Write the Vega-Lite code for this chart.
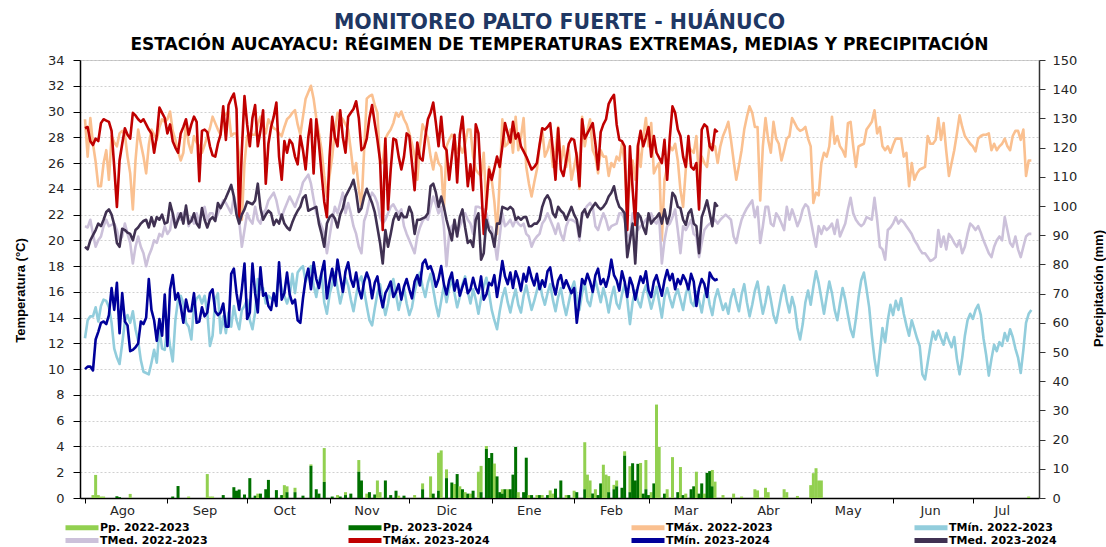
{
"$schema":"https://vega.github.io/schema/vega-lite/v6.json",
"width":959,"height":438,
"autosize":"none",
"padding":{"left":80,"top":60,"right":67,"bottom":49},
"background":"white",
"config":{"font":"DejaVu Sans","view":{"stroke":"#BFBFBF","strokeWidth":1}},
"title":{"text":"MONITOREO PALTO FUERTE - HUÁNUCO","subtitle":"ESTACIÓN AUCAYACU: RÉGIMEN DE TEMPERATURAS EXTREMAS, MEDIAS Y PRECIPITACIÓN","color":"#1F3864","font":"DejaVu Sans","fontSize":20.5,"fontWeight":"bold","subtitleColor":"#000000","subtitleFont":"DejaVu Sans","subtitleFontSize":17,"subtitleFontWeight":"bold","anchor":"middle","offset":1,"subtitlePadding":4},
"data":{"values":[
{"d":0,"a":29.4,"b":12.4,"c":21.1,"e":28.7,"f":10,"g":19.5},
{"d":1,"a":26.5,"b":13.8,"c":21,"e":28.8,"f":10.2,"g":19.3},
{"d":2,"a":29.5,"b":14.1,"c":21.6,"e":27.7,"f":10.2,"g":20},
{"d":3,"a":27.5,"b":14.1,"c":20.5,"e":27.4,"f":9.9,"g":20.4,"p":1},
{"d":4,"a":26.1,"b":14.8,"c":19.5,"e":27.9,"f":12.3,"g":20.8,"p":7.9},
{"d":5,"a":24.2,"b":13.7,"c":20,"e":27.7,"f":12.9,"g":21.3,"p":1},
{"d":6,"a":24.2,"b":14.9,"c":20.3,"e":29.1,"f":13.6,"g":21.1,"p":0.5},
{"d":7,"a":26,"b":15.4,"c":21.1,"e":29.4,"f":13.7,"g":21.6,"p":0.5},
{"d":8,"a":27,"b":15.3,"c":21.6,"e":29.3,"f":13.5,"g":22.2},
{"d":9,"a":24.7,"b":14.8,"c":21.1,"e":29.2,"f":14.2,"g":22.4},
{"d":10,"a":28.1,"b":13.6,"c":21.2,"e":28.5,"f":16.3,"g":22},
{"d":11,"a":27.6,"b":11.6,"c":21.3,"e":25.7,"f":14.6,"g":21.2},
{"d":12,"a":27.3,"b":10.9,"c":20.8,"e":22.6,"f":16.7,"g":19.8,"q":0.6},
{"d":13,"a":28.3,"b":10.4,"c":20,"e":26.2,"f":12.8,"g":19.5,"q":0.3},
{"d":14,"a":28.5,"b":12,"c":20.3,"e":27.5,"f":15.9,"g":20.9},
{"d":15,"a":28.2,"b":13.7,"c":21.3,"e":28.7,"f":13.7,"g":20.8},
{"d":16,"a":26.5,"b":14.2,"c":20.5,"e":28.2,"f":13.4,"g":20.6},
{"d":17,"a":25.2,"b":13.6,"c":19.8,"e":27.9,"f":11.4,"g":20.5,"p":1.4},
{"d":18,"a":22.4,"b":14.5,"c":18.2,"e":29.9,"f":11.5,"g":20},
{"d":19,"a":26.2,"b":13.1,"c":19.5,"e":29.7,"f":11.7,"g":20.8},
{"d":20,"a":28.6,"b":12.2,"c":20.3,"e":29.4,"f":12,"g":21},
{"d":21,"a":27.5,"b":10.7,"c":19.5,"e":29.2,"f":13.7,"g":21.3},
{"d":22,"a":26.5,"b":9.8,"c":19,"e":29.4,"f":13.5,"g":21.5},
{"d":23,"a":25.2,"b":9.7,"c":18,"e":29,"f":14,"g":21.6},
{"d":24,"a":27.4,"b":9.6,"c":18.8,"e":28.6,"f":17,"g":21},
{"d":25,"a":28.6,"b":10.5,"c":19.3,"e":28.3,"f":14.6,"g":21.8},
{"d":26,"a":28.2,"b":11.5,"c":20,"e":26.8,"f":13.8,"g":21.1},
{"d":27,"a":27.8,"b":10.5,"c":19.8,"e":28.1,"f":12.2,"g":21.8},
{"d":28,"a":28.8,"b":13.1,"c":20.5,"e":30.3,"f":13.9,"g":21.6},
{"d":29,"a":29.4,"b":11.6,"c":20.3,"e":29.9,"f":12.6,"g":22},
{"d":30,"a":29.2,"b":11.5,"c":21.1,"e":29.5,"f":15.8,"g":21.3},
{"d":31,"a":29.4,"b":13.3,"c":20.5,"e":28.3,"f":11.8,"g":21.4},
{"d":32,"a":30,"b":11.8,"c":20.8,"e":29,"f":16.2,"g":22.9},
{"d":33,"a":28.5,"b":10.6,"c":22.1,"e":27.7,"f":17.3,"g":22.1,"q":0.5},
{"d":34,"a":27.8,"b":13.8,"c":21.1,"e":27.2,"f":15.4,"g":21},
{"d":35,"a":26.9,"b":15.4,"c":22.1,"e":26.8,"f":15.9,"g":21.6,"q":4.1},
{"d":36,"a":26.2,"b":15.7,"c":21.6,"e":28.3,"f":14.9,"g":22.1},
{"d":37,"a":26.8,"b":15.1,"c":22.1,"e":28.8,"f":13.6,"g":21.3},
{"d":38,"a":29.1,"b":13.6,"c":22.4,"e":29.4,"f":15.4,"g":22.7},
{"d":39,"a":27.5,"b":13.3,"c":21.1,"e":28.2,"f":14.5,"g":21.3,"p":0.5},
{"d":40,"a":26.8,"b":12.3,"c":21.8,"e":29,"f":14.5,"g":21.5},
{"d":41,"a":28.1,"b":14.9,"c":21.3,"e":29.6,"f":15.9,"g":22.1},
{"d":42,"a":27.6,"b":15.5,"c":22.1,"e":29.2,"f":13.6,"g":21.3},
{"d":43,"a":27.3,"b":15.7,"c":21.3,"e":24.6,"f":13.7,"g":21},
{"d":44,"a":26.8,"b":15.1,"c":22.4,"e":28.5,"f":14.8,"g":22.5},
{"d":45,"a":27.4,"b":15.7,"c":22.6,"e":28.6,"f":14.1,"g":21.6},
{"d":46,"a":28.1,"b":14.4,"c":21.6,"e":28.4,"f":14.4,"g":21,"p":8.2},
{"d":47,"a":28.7,"b":11.8,"c":22.1,"e":27.3,"f":15.9,"g":21.6,"p":0.5},
{"d":48,"a":29.6,"b":12.6,"c":22.1,"e":26.6,"f":16.2,"g":21.8,"p":0.5},
{"d":49,"a":29.1,"b":15.4,"c":21.6,"e":26.5,"f":14.5,"g":21.5},
{"d":50,"a":28.6,"b":15.9,"c":22.1,"e":27.5,"f":14.2,"g":22.9},
{"d":51,"a":28.2,"b":12.8,"c":22.6,"e":28.2,"f":14.4,"g":22.5},
{"d":52,"a":29.6,"b":14.1,"c":23.1,"e":30.4,"f":15.1,"g":22.9,"q":1},
{"d":53,"a":29.8,"b":12.8,"c":22.9,"e":27.8,"f":13.3,"g":23.3},
{"d":54,"a":30,"b":14.4,"c":22.5,"e":30.5,"f":13.3,"g":23.8},
{"d":55,"a":28.1,"b":13.3,"c":22.1,"e":31,"f":17.4,"g":24.3},
{"d":56,"a":28.3,"b":14.9,"c":23.4,"e":31.4,"f":17.8,"g":23.4,"q":3.7},
{"d":57,"a":28.3,"b":13.8,"c":22.4,"e":30.2,"f":15.9,"g":22,"q":2.5},
{"d":58,"a":26.5,"b":13.1,"c":21.5,"e":21.6,"f":14.6,"g":21.3,"q":2.9},
{"d":59,"a":21.6,"b":14.6,"c":19.5,"e":27,"f":16.2,"g":22},
{"d":60,"a":26,"b":14.9,"c":20.8,"e":31.2,"f":18.2,"g":22.4,"q":1.2},
{"d":61,"a":28.1,"b":15.4,"c":22.1,"e":29,"f":13.9,"g":23},
{"d":62,"a":28.3,"b":13.8,"c":21.6,"e":27.3,"f":14.4,"g":22.9,"q":6.8},
{"d":63,"a":28.2,"b":13.1,"c":21.3,"e":29.5,"f":18.2,"g":22.8},
{"d":64,"a":28.2,"b":14.4,"c":22.6,"e":30.5,"f":15.9,"g":23.1,"q":0.8},
{"d":65,"a":29,"b":17,"c":21.6,"e":27.3,"f":14.4,"g":24.4,"p":1.5},
{"d":66,"a":29.6,"b":16.2,"c":21.3,"e":28.5,"f":17.9,"g":22.5,"q":1.5},
{"d":67,"a":28.9,"b":16.3,"c":22.1,"e":30.1,"f":15.7,"g":21.6},
{"d":68,"a":28.3,"b":15.1,"c":22.4,"e":24.4,"f":15.9,"g":22,"q":3},
{"d":69,"a":29.4,"b":15.7,"c":23.1,"e":27.5,"f":14.9,"g":22.3,"q":6.2},
{"d":70,"a":29,"b":15.5,"c":23.4,"e":28.8,"f":14.6,"g":22.1},
{"d":71,"a":28.7,"b":15.4,"c":23.7,"e":29.6,"f":15.9,"g":21.2},
{"d":72,"a":28.6,"b":15.7,"c":23.1,"e":30.7,"f":14.9,"g":21.6,"q":2.7},
{"d":73,"a":28.3,"b":17.5,"c":22.1,"e":26.5,"f":18.3,"g":21.3},
{"d":74,"a":28.1,"b":16.2,"c":21.8,"e":24.7,"f":15.4,"g":22,"q":1},
{"d":75,"a":28.8,"b":15.7,"c":22.4,"e":27.7,"f":15.9,"g":21.3,"p":4.4},
{"d":76,"a":29.4,"b":15.1,"c":22.9,"e":26.8,"f":17.5,"g":21,"p":2,"q":2},
{"d":77,"a":29.6,"b":15.7,"c":23.4,"e":27.8,"f":15.8,"g":20.8},
{"d":78,"a":29.9,"b":17.4,"c":23,"e":27.5,"f":15.1,"g":21.4},
{"d":79,"a":30.1,"b":15.9,"c":22.6,"e":26.5,"f":15.4,"g":21.9,"p":1.5,"q":2},
{"d":80,"a":29,"b":17.5,"c":23.2,"e":25.9,"f":13.8,"g":22.3},
{"d":81,"a":28.2,"b":17.8,"c":23.7,"e":28.1,"f":13.6,"g":22.6},
{"d":82,"a":29.6,"b":18,"c":24.5,"e":27,"f":15.5,"g":23.3,"q":0.8},
{"d":83,"a":31,"b":16.8,"c":24.8,"e":25.5,"f":17,"g":23.5},
{"d":84,"a":31.5,"b":17.3,"c":25.1,"e":28,"f":17.8,"g":22.3},
{"d":85,"a":32,"b":18,"c":24.4,"e":29.4,"f":16.2,"g":22.4,"p":0.5,"q":11},
{"d":86,"a":31,"b":16.5,"c":23.2,"e":25.2,"f":18.3,"g":22.5},
{"d":87,"a":29.5,"b":15.6,"c":22.1,"e":29.4,"f":17,"g":22.6,"q":3},
{"d":88,"a":28.3,"b":16.9,"c":21.6,"e":27.5,"f":16.3,"g":21.3,"q":1.5},
{"d":89,"a":27,"b":17.4,"c":21.1,"e":25.2,"f":17.5,"g":20.5},
{"d":90,"a":25,"b":15.2,"c":20.5,"e":23,"f":18.4,"g":19.5,"p":11.6,"q":5.5},
{"d":91,"a":23.4,"b":14.3,"c":19,"e":21.8,"f":15.5,"g":21.3},
{"d":92,"a":25,"b":15.8,"c":20.3,"e":26.5,"f":16.8,"g":21.8},
{"d":93,"a":26.5,"b":16.6,"c":21.6,"e":29.6,"f":17.8,"g":22,"q":0.5},
{"d":94,"a":28.5,"b":17.5,"c":22.6,"e":28,"f":16.5,"g":21.7},
{"d":95,"a":29.9,"b":16.3,"c":22.1,"e":27.3,"f":18.5,"g":21,"p":1},
{"d":96,"a":29.6,"b":15.1,"c":22.9,"e":30.1,"f":17.2,"g":22,"q":0.5},
{"d":97,"a":29.4,"b":16,"c":23.7,"e":28,"f":16,"g":22.5},
{"d":98,"a":29,"b":17.1,"c":22.1,"e":26.8,"f":17.6,"g":23.4,"p":1,"q":1},
{"d":99,"a":28.6,"b":16.5,"c":22.9,"e":29.6,"f":18.3,"g":23.8},
{"d":100,"a":27,"b":15.4,"c":22.1,"e":29.9,"f":17,"g":24.2,"q":1.5},
{"d":101,"a":25.2,"b":14.5,"c":21.1,"e":30.2,"f":16.4,"g":24.7},
{"d":102,"a":26,"b":15.7,"c":20.5,"e":30.8,"f":17.5,"g":23.7},
{"d":103,"a":24,"b":16.8,"c":19.5,"e":29.5,"f":16.2,"g":22.2,"p":4,"q":9},
{"d":104,"a":22.6,"b":17.2,"c":19,"e":27,"f":15.5,"g":22.5,"q":6},
{"d":105,"a":27,"b":16.1,"c":21.5,"e":27.2,"f":16.8,"g":23.4},
{"d":106,"a":31,"b":14.9,"c":22.1,"e":27.9,"f":17.5,"g":24,"p":1.5},
{"d":107,"a":31.2,"b":13.8,"c":23.1,"e":29.5,"f":16.9,"g":23.4,"q":2},
{"d":108,"a":31.3,"b":13.4,"c":23.7,"e":30.5,"f":15.5,"g":22.9},
{"d":109,"a":30.5,"b":14.7,"c":23.4,"e":29.1,"f":16.7,"g":22.2,"q":1.2},
{"d":110,"a":29.9,"b":15.9,"c":22.9,"e":27.8,"f":17.2,"g":21,"p":6},
{"d":111,"a":26,"b":16.6,"c":21.8,"e":26.2,"f":15.8,"g":19.8,"p":2},
{"d":112,"a":26,"b":15.3,"c":21.3,"e":20.8,"f":14.8,"g":18.2},
{"d":113,"a":27.9,"b":14.2,"c":21.6,"e":27.9,"f":15.9,"g":20.8,"q":6},
{"d":114,"a":28.3,"b":15.1,"c":22.1,"e":22.4,"f":16.3,"g":19.5},
{"d":115,"a":28.6,"b":16.4,"c":22.6,"e":25.5,"f":16.8,"g":20.5,"q":1},
{"d":116,"a":29.1,"b":17,"c":22.8,"e":27.9,"f":15.6,"g":21.6},
{"d":117,"a":29.9,"b":15.8,"c":22.4,"e":27.8,"f":16,"g":22.1,"q":2.5},
{"d":118,"a":29.6,"b":14.6,"c":22.1,"e":26.5,"f":16.6,"g":21.6,"p":0.8},
{"d":119,"a":30,"b":15.5,"c":22.4,"e":25.5,"f":15.4,"g":22.1},
{"d":120,"a":29.4,"b":16.3,"c":21.1,"e":26.5,"f":16.4,"g":21.8,"q":0.8},
{"d":121,"a":29,"b":15.1,"c":20.5,"e":28.3,"f":17,"g":21.8},
{"d":122,"a":28.3,"b":14.2,"c":20,"e":28.1,"f":16.2,"g":22.6},
{"d":123,"a":27.5,"b":14.8,"c":19.5,"e":26,"f":15.5,"g":22.1},
{"d":124,"a":26.6,"b":16,"c":19,"e":23.9,"f":16.8,"g":20.5,"p":1},
{"d":125,"a":24.7,"b":16.9,"c":20.3,"e":27.6,"f":17.3,"g":21.6},
{"d":126,"a":27.3,"b":17.5,"c":21,"e":26.4,"f":16.5,"g":21.6},
{"d":127,"a":29,"b":16.4,"c":21.5,"e":26.2,"f":18.2,"g":21.7,"p":2,"q":3},
{"d":128,"a":28.5,"b":15.6,"c":21.8,"e":28,"f":18.5,"g":21.8},
{"d":129,"a":27.9,"b":16.7,"c":21.6,"e":29.4,"f":17.8,"g":22.1},
{"d":130,"a":26.5,"b":17.4,"c":22.6,"e":29.9,"f":18,"g":24.2,"p":7.4},
{"d":131,"a":25.5,"b":16.2,"c":23.4,"e":30.7,"f":17.4,"g":24.4,"q":1.5},
{"d":132,"a":26.8,"b":15,"c":22.8,"e":29.1,"f":16.4,"g":23.7},
{"d":133,"a":26,"b":14.1,"c":22.1,"e":27.3,"f":17,"g":22.6,"p":13,"q":2.5},
{"d":134,"a":25.7,"b":15.3,"c":22.6,"e":29.6,"f":18,"g":23.4,"p":16.3},
{"d":135,"a":22.4,"b":16.5,"c":21.1,"e":27.3,"f":16.6,"g":22.6},
{"d":136,"a":27.3,"b":15.2,"c":18,"e":27,"f":15.8,"g":21.6,"p":3,"q":6.8},
{"d":137,"a":27.8,"b":16.3,"c":20.5,"e":24.7,"f":16.9,"g":20.8},
{"d":138,"a":28.2,"b":17,"c":21.1,"e":26.5,"f":17.5,"g":20,"q":5.3},
{"d":139,"a":27.9,"b":15.9,"c":21.3,"e":28.2,"f":16.1,"g":21.6,"p":4.8},
{"d":140,"a":26.8,"b":14.8,"c":20.5,"e":24.5,"f":16.9,"g":20.3,"q":8.2},
{"d":141,"a":27.3,"b":15.6,"c":21.1,"e":28.2,"f":15.7,"g":21.8,"p":4},
{"d":142,"a":26.8,"b":16.6,"c":21.6,"e":29.6,"f":16.4,"g":22.4,"q":3},
{"d":143,"a":27.5,"b":17.2,"c":22.1,"e":27,"f":17,"g":21,"p":2},
{"d":144,"a":28.6,"b":16,"c":21.6,"e":24.2,"f":15.9,"g":19.8,"q":1.5},
{"d":145,"a":28.6,"b":15.1,"c":21.3,"e":25.9,"f":16.2,"g":20,"p":1.5},
{"d":146,"a":26.5,"b":16.2,"c":20.5,"e":23.9,"f":17.1,"g":19.5,"q":2.5},
{"d":147,"a":25.5,"b":15.4,"c":22.6,"e":29,"f":16.3,"g":21.6},
{"d":148,"a":25.2,"b":14.3,"c":22.6,"e":28.3,"f":15.9,"g":22.1,"p":9},
{"d":149,"a":25,"b":15.5,"c":22.5,"e":24.5,"f":17.2,"g":18.5,"p":9,"q":2},
{"d":150,"a":26.8,"b":16.4,"c":22.4,"e":20.5,"f":15.4,"g":19},
{"d":151,"a":22.4,"b":17.1,"c":22.1,"e":22.9,"f":15.8,"g":21.6,"p":1,"q":16.8},
{"d":152,"a":25.7,"b":15.9,"c":21.1,"e":25.5,"f":16.7,"g":20.8,"q":13.7},
{"d":153,"a":24.7,"b":14.6,"c":21,"e":24.7,"f":16.5,"g":20.5,"q":15.4},
{"d":154,"a":23,"b":13.8,"c":20,"e":25.6,"f":17.3,"g":19.5,"p":11.8},
{"d":155,"a":20.5,"b":13.1,"c":18.5,"e":26.5,"f":15.6,"g":21.3,"q":7.4},
{"d":156,"a":24.7,"b":14.5,"c":20.3,"e":25.7,"f":16.9,"g":21.3,"q":2},
{"d":157,"a":29.4,"b":15.6,"c":22.1,"e":27.3,"f":18.4,"g":22.6,"p":1.5,"q":1.5},
{"d":158,"a":27.3,"b":16.3,"c":21.1,"e":29.1,"f":17.2,"g":22.5,"q":3},
{"d":159,"a":27.5,"b":15.2,"c":21.3,"e":28.3,"f":16.6,"g":22.4,"p":3},
{"d":160,"a":28.6,"b":14.4,"c":21.6,"e":27.6,"f":17.5,"g":22.6,"q":3},
{"d":161,"a":26.8,"b":15.4,"c":21.1,"e":29.2,"f":16.3,"g":22.4,"q":8},
{"d":162,"a":29.6,"b":16.2,"c":21.6,"e":27.9,"f":17.6,"g":21.6,"q":17.5},
{"d":163,"a":27,"b":15,"c":21.3,"e":28.3,"f":17,"g":21.8,"p":2},
{"d":164,"a":28,"b":14.4,"c":21.1,"e":27.3,"f":16.1,"g":21.6},
{"d":165,"a":29.5,"b":15.7,"c":21.3,"e":26.9,"f":17.4,"g":21.8,"q":2},
{"d":166,"a":25.7,"b":16.5,"c":20.5,"e":26.5,"f":16.8,"g":21.8,"q":13.8},
{"d":167,"a":24.4,"b":15.5,"c":20.3,"e":26,"f":17.9,"g":21.1,"p":1},
{"d":168,"a":23.4,"b":14.6,"c":19.5,"e":25.5,"f":17.1,"g":21.1,"q":1},
{"d":169,"a":24.5,"b":15.3,"c":20,"e":25.7,"f":16.5,"g":21.3},
{"d":170,"a":25.5,"b":16.1,"c":20.3,"e":26,"f":17.4,"g":21.3,"p":1},
{"d":171,"a":27.3,"b":16.8,"c":20.5,"e":27.4,"f":16.2,"g":21.6,"q":1},
{"d":172,"a":28.6,"b":15.7,"c":21.3,"e":28.7,"f":16.9,"g":22.6,"p":1},
{"d":173,"a":26.5,"b":15,"c":21.6,"e":28.6,"f":16.4,"g":23.2},
{"d":174,"a":27,"b":15.9,"c":22.1,"e":28.8,"f":17.6,"g":23.5,"q":1},
{"d":175,"a":27.8,"b":16.6,"c":21.6,"e":29.1,"f":17.9,"g":23.1,"p":2.6},
{"d":176,"a":25.7,"b":15.4,"c":21.1,"e":27,"f":16.6,"g":22.1,"p":1.5},
{"d":177,"a":27,"b":14.5,"c":20.5,"e":24.7,"f":15.8,"g":21.8,"q":3.2},
{"d":178,"a":28.8,"b":15.6,"c":21.3,"e":28.7,"f":16.9,"g":22.6},
{"d":179,"a":26,"b":16.3,"c":20.5,"e":25.5,"f":17.3,"g":22.3,"q":6},
{"d":180,"a":27.3,"b":15.1,"c":20,"e":25,"f":16.3,"g":22.1},
{"d":181,"a":25.7,"b":14.2,"c":21.1,"e":26.2,"f":16.9,"g":21.6,"p":1},
{"d":182,"a":27,"b":15.2,"c":21.6,"e":27.5,"f":16.4,"g":22.1,"q":1},
{"d":183,"a":24.7,"b":16.2,"c":21.6,"e":27.9,"f":15.9,"g":22.6},
{"d":184,"a":25.7,"b":16.8,"c":21.5,"e":27.8,"f":16.3,"g":22,"p":2.5},
{"d":185,"a":26.8,"b":15.6,"c":21.3,"e":26.5,"f":13.6,"g":21.6,"q":2},
{"d":186,"a":24,"b":14.6,"c":20,"e":24.2,"f":15.3,"g":20.3},
{"d":187,"a":29.6,"b":15.9,"c":21.8,"e":29.4,"f":17,"g":22.1},
{"d":188,"a":27.3,"b":16.7,"c":22.4,"e":27.9,"f":16.6,"g":22.4,"p":16.1,"q":3},
{"d":189,"a":28.5,"b":15.3,"c":22.7,"e":28.3,"f":17.4,"g":21.8,"p":8},
{"d":190,"a":29.4,"b":14.9,"c":22.9,"e":28.7,"f":16.8,"g":22.3,"p":6},
{"d":191,"a":27,"b":16,"c":22.6,"e":29.1,"f":16,"g":22.6,"q":1.5},
{"d":192,"a":26.5,"b":16.9,"c":21.1,"e":27.5,"f":17.3,"g":22.9,"p":3},
{"d":193,"a":25.2,"b":16.1,"c":20.8,"e":25.5,"f":17.8,"g":22.6,"q":1},
{"d":194,"a":27,"b":15.2,"c":21.5,"e":28.4,"f":16.6,"g":22.4,"q":5},
{"d":195,"a":26.5,"b":16.3,"c":22.1,"e":29,"f":17,"g":22.6,"p":11.4},
{"d":196,"a":26.5,"b":15.5,"c":21.6,"e":29.4,"f":16.4,"g":22.9,"p":8},
{"d":197,"a":25,"b":14.4,"c":20.8,"e":30.6,"f":17.2,"g":23.4,"p":5.5,"q":2},
{"d":198,"a":26,"b":15.6,"c":21.1,"e":31,"f":18.5,"g":23.7},
{"d":199,"a":25.7,"b":16.4,"c":21.2,"e":31.3,"f":17.3,"g":24.2,"p":1.5,"q":3},
{"d":200,"a":26.5,"b":15.1,"c":21.3,"e":29,"f":16.9,"g":23.2,"p":2,"q":4},
{"d":201,"a":26.2,"b":14.7,"c":22.1,"e":27.8,"f":16.1,"g":22.6},
{"d":202,"a":27.5,"b":15.8,"c":22.1,"e":27.7,"f":17.6,"g":22.4,"q":3.5},
{"d":203,"a":26,"b":16.6,"c":21.6,"e":27.3,"f":16.8,"g":22.1,"p":1.5,"q":14.5},
{"d":204,"a":22.6,"b":15.4,"c":20.5,"e":20.8,"f":15.6,"g":18.7},
{"d":205,"a":24.5,"b":13.5,"c":20,"e":27.3,"f":17.1,"g":20,"p":8.9,"q":2},
{"d":206,"a":26.2,"b":15.2,"c":22.1,"e":24,"f":16.5,"g":21.3,"q":11.9},
{"d":207,"a":24.7,"b":16.1,"c":21.6,"e":21.2,"f":15.4,"g":18.2,"q":6},
{"d":208,"a":27.5,"b":15.3,"c":20.8,"e":27.3,"f":16.4,"g":22.1,"q":11.7},
{"d":209,"a":25.7,"b":14.8,"c":21.1,"e":28.5,"f":17.2,"g":21.8,"p":12},
{"d":210,"a":28,"b":15.9,"c":21.3,"e":27.3,"f":16.7,"g":21,"q":1.5},
{"d":211,"a":29.5,"b":16.5,"c":21.6,"e":28,"f":17.6,"g":20.5,"p":10,"q":3},
{"d":212,"a":27.3,"b":15.6,"c":21.8,"e":28.8,"f":16.1,"g":22.1,"q":1},
{"d":213,"a":29.1,"b":14.7,"c":22.1,"e":26.5,"f":15.6,"g":21.3,"p":2},
{"d":214,"a":25.2,"b":15.5,"c":21.5,"e":28.1,"f":16.8,"g":21.6,"q":5},
{"d":215,"a":25.7,"b":16.4,"c":21.3,"e":26.8,"f":17.3,"g":21.8,"p":32},
{"d":216,"a":26,"b":15.2,"c":21.8,"e":26.4,"f":16.5,"g":22.1,"p":17.5},
{"d":217,"a":20,"b":14,"c":18.2,"e":26,"f":15.7,"g":21.3},
{"d":218,"a":24.7,"b":15.6,"c":20,"e":27.8,"f":16.9,"g":22.4,"q":1.5},
{"d":219,"a":25.7,"b":16.3,"c":21.1,"e":24.7,"f":17.7,"g":21.3,"p":3},
{"d":220,"a":27.3,"b":15.5,"c":21.3,"e":28,"f":16.9,"g":22},
{"d":221,"a":27,"b":14.8,"c":21.8,"e":30.4,"f":17.4,"g":23.7,"p":14},
{"d":222,"a":27.5,"b":15.7,"c":22.4,"e":29.9,"f":16.2,"g":23.4},
{"d":223,"a":26.2,"b":16.2,"c":20.8,"e":28.6,"f":17,"g":22.6,"q":2},
{"d":224,"a":23.9,"b":15.4,"c":19,"e":28.1,"f":16.6,"g":22.5,"p":10.6},
{"d":225,"a":22.6,"b":14.6,"c":21.1,"e":26.5,"f":17.3,"g":21.6,"q":1},
{"d":226,"a":25.5,"b":15.8,"c":20.8,"e":25.7,"f":16.9,"g":21.2,"p":1.5},
{"d":227,"a":27.3,"b":16.5,"c":21.2,"e":28.1,"f":16.2,"g":22.1},
{"d":228,"a":27,"b":15.2,"c":21.6,"e":25.7,"f":17.4,"g":22.4,"q":3},
{"d":229,"a":26.8,"b":14.9,"c":20.5,"e":25.5,"f":16.8,"g":21.3,"q":4},
{"d":230,"a":28.1,"b":16,"c":20.3,"e":26,"f":14.9,"g":21.1,"p":9},
{"d":231,"a":24.7,"b":15.3,"c":18.7,"e":22.4,"f":16.3,"g":19,"q":1.5},
{"d":232,"a":26.5,"b":14.4,"c":19.8,"e":28.6,"f":17,"g":21.8,"q":5},
{"d":233,"a":26,"b":15.7,"c":20.8,"e":29,"f":16.6,"g":22.4,"p":1.5},
{"d":234,"a":25.7,"b":16.3,"c":21.1,"e":28.8,"f":15.6,"g":23.1,"q":8.6},
{"d":235,"a":27.5,"b":15,"c":21.3,"e":27.3,"f":17.5,"g":22.1,"q":9.2},
{"d":236,"a":27.4,"b":14.2,"c":21.4,"e":27,"f":17.1,"g":21.1,"p":5.6,"q":4},
{"d":237,"a":27.3,"b":15.5,"c":21.6,"e":28.6,"f":16.9,"g":22.9,"p":5.6},
{"d":238,"a":26,"b":16.2,"c":21.3,"e":28.4,"f":17,"g":22.6},
{"d":239,"a":27.3,"b":15.4,"c":21.6},
{"d":240,"a":28.1,"b":14.6,"c":21.8,"p":1},
{"d":241,"a":28.6,"b":15.1,"c":22},
{"d":242,"a":29.2,"b":14.3,"c":21.8},
{"d":243,"a":27.8,"b":15.5,"c":21.6},
{"d":244,"a":26.2,"b":16.2,"c":20.3,"p":1.5},
{"d":245,"a":24.7,"b":15.3,"c":19.8},
{"d":246,"a":25.8,"b":14.5,"c":20.8},
{"d":247,"a":27,"b":15.8,"c":21.6,"p":0.5},
{"d":248,"a":28.6,"b":16.6,"c":22.1},
{"d":249,"a":29.6,"b":15.2,"c":22.5},
{"d":250,"a":30.4,"b":14.1,"c":22.8},
{"d":251,"a":29.9,"b":15,"c":23.1},
{"d":252,"a":28.8,"b":16.1,"c":21.8,"p":3},
{"d":253,"a":28.8,"b":16.8,"c":22.6,"p":2.6},
{"d":254,"a":23.1,"b":15.5,"c":19.8},
{"d":255,"a":27.3,"b":14.3,"c":21.1},
{"d":256,"a":29.5,"b":15.2,"c":22.6,"p":3.5},
{"d":257,"a":27.8,"b":16.4,"c":22.6,"p":2},
{"d":258,"a":26.8,"b":15.4,"c":21.3},
{"d":259,"a":29.2,"b":14.2,"c":21.1},
{"d":260,"a":27.9,"b":13.6,"c":22.1},
{"d":261,"a":27.5,"b":14.7,"c":21.8},
{"d":262,"a":26.2,"b":15.8,"c":21.3},
{"d":263,"a":27,"b":16.5,"c":20.8,"p":3},
{"d":264,"a":27.9,"b":15.3,"c":22.6,"p":2},
{"d":265,"a":28.1,"b":14.4,"c":21.6},
{"d":266,"a":29.5,"b":15.6,"c":22.4},
{"d":267,"a":29.1,"b":14.8,"c":21.8},
{"d":268,"a":28.7,"b":13.2,"c":21.1,"p":0.7},
{"d":269,"a":28.5,"b":12.3,"c":21.6},
{"d":270,"a":28.6,"b":13.5,"c":22.4},
{"d":271,"a":28.8,"b":15.2,"c":22.8},
{"d":272,"a":27.9,"b":16.1,"c":22.6},
{"d":273,"a":27.3,"b":15,"c":21.6,"p":4.4},
{"d":274,"a":22.9,"b":16.4,"c":20.5,"p":8.5},
{"d":275,"a":23.7,"b":17.6,"c":19.5,"p":10.2},
{"d":276,"a":23.5,"b":16.7,"c":21.1,"p":6},
{"d":277,"a":26,"b":15.5,"c":20.5,"p":6},
{"d":278,"a":26.8,"b":14.3,"c":21.1},
{"d":279,"a":26.5,"b":15.6,"c":20.8},
{"d":280,"a":27.3,"b":16.8,"c":21},
{"d":281,"a":29.6,"b":15.9,"c":21.3},
{"d":282,"a":27.5,"b":14.6,"c":20.5},
{"d":283,"a":28.1,"b":13.8,"c":21.6},
{"d":284,"a":27.3,"b":15.1,"c":20.3},
{"d":285,"a":27,"b":16.3,"c":20.8},
{"d":286,"a":26.5,"b":15.4,"c":21.3},
{"d":287,"a":29.1,"b":14.2,"c":22.4},
{"d":288,"a":29.2,"b":13.1,"c":23.3},
{"d":289,"a":27.3,"b":12.5,"c":22.1},
{"d":290,"a":25.7,"b":13.9,"c":21.6},
{"d":291,"a":27.3,"b":15.6,"c":21.3},
{"d":292,"a":27.4,"b":16.9,"c":21.1},
{"d":293,"a":27.5,"b":17.5,"c":21.3},
{"d":294,"a":28.6,"b":16.2,"c":21.8},
{"d":295,"a":28.9,"b":14.8,"c":21.7},
{"d":296,"a":29.2,"b":12.6,"c":21.6},
{"d":297,"a":30.1,"b":10.8,"c":23.3},
{"d":298,"a":28.3,"b":9.5,"c":21.6},
{"d":299,"a":28.8,"b":11.3,"c":19.5},
{"d":300,"a":27.3,"b":13.2,"c":19.3},
{"d":301,"a":27,"b":12.1,"c":18.5},
{"d":302,"a":27.3,"b":13.8,"c":20.8},
{"d":303,"a":26.8,"b":15,"c":21},
{"d":304,"a":27.4,"b":14.2,"c":21.3},
{"d":305,"a":27.9,"b":15.3,"c":21.8},
{"d":306,"a":27.9,"b":14.6,"c":21.3},
{"d":307,"a":27.9,"b":15.5,"c":21.6},
{"d":308,"a":26.5,"b":14.3,"c":21.4},
{"d":309,"a":26.8,"b":13.4,"c":21.1},
{"d":310,"a":24.2,"b":12.6,"c":20.8},
{"d":311,"a":26,"b":13.8,"c":20.5},
{"d":312,"a":24.7,"b":13.1,"c":20},
{"d":313,"a":25.2,"b":12.4,"c":19.7},
{"d":314,"a":25.5,"b":11.8,"c":19.3},
{"d":315,"a":25.6,"b":9.6,"c":19},
{"d":316,"a":25.7,"b":9.2,"c":19},
{"d":317,"a":28.1,"b":10.5,"c":18.7},
{"d":318,"a":27.5,"b":11.8,"c":18.4},
{"d":319,"a":27.5,"b":12.9,"c":18.5},
{"d":320,"a":27.8,"b":12.3,"c":18.7},
{"d":321,"a":29.5,"b":13,"c":20.8},
{"d":322,"a":27.8,"b":12.4,"c":19.5},
{"d":323,"a":29.1,"b":11.9,"c":20.3},
{"d":324,"a":26.9,"b":12.8,"c":19.3},
{"d":325,"a":25,"b":12.2,"c":20.5},
{"d":326,"a":26,"b":11.7,"c":20.2},
{"d":327,"a":27,"b":12.5,"c":19.8},
{"d":328,"a":28.3,"b":10.8,"c":19.5},
{"d":329,"a":29.7,"b":9.6,"c":20},
{"d":330,"a":28.8,"b":10.9,"c":19},
{"d":331,"a":28.1,"b":12.6,"c":19.5},
{"d":332,"a":27.8,"b":13.8,"c":20.5},
{"d":333,"a":27.5,"b":14.3,"c":21.3},
{"d":334,"a":27.3,"b":13.9,"c":21.1},
{"d":335,"a":26.9,"b":14.6,"c":20.8},
{"d":336,"a":27.9,"b":15,"c":21.1},
{"d":337,"a":28.1,"b":14.2,"c":20.6},
{"d":338,"a":28.2,"b":12.4,"c":20},
{"d":339,"a":28.2,"b":11.1,"c":19.5},
{"d":340,"a":28.3,"b":9.5,"c":19},
{"d":341,"a":27,"b":10.8,"c":18.7},
{"d":342,"a":27.5,"b":11.9,"c":19.5},
{"d":343,"a":27,"b":11.4,"c":20},
{"d":344,"a":27.3,"b":12.1,"c":20.3},
{"d":345,"a":27.5,"b":11.8,"c":20},
{"d":346,"a":27.9,"b":12.8,"c":21.8},
{"d":347,"a":27.3,"b":12.2,"c":20.8},
{"d":348,"a":27,"b":13.1,"c":19.8},
{"d":349,"a":28.1,"b":12.5,"c":19.5},
{"d":350,"a":28.5,"b":11.6,"c":20.3},
{"d":351,"a":28.5,"b":10.9,"c":19.3},
{"d":352,"a":27.8,"b":9.7,"c":18.7},
{"d":353,"a":28.6,"b":11.5,"c":19.5},
{"d":354,"a":25,"b":13.6,"c":20.3},
{"d":355,"a":26.2,"b":14.3,"c":20.5,"p":0.5},
{"d":356,"a":26.2,"b":14.6,"c":20.5}
]},
"transform":[{"fold":["a","b","c","e","f","g","p","q"],"as":["k","v"]},{"filter":"isValid(datum.v)"}],
"encoding":{"x":{"field":"d","type":"quantitative","scale":{"domain":[0,357],"nice":false,"zero":false},
 "axis":{"values":[0,31,61,92,122,153,184,212,243,273,304,334],"labelExpr":"['Ago','Sep','Oct','Nov','Dic','Ene','Feb','Mar','Abr','May','Jun','Jul'][indexof([0,31,61,92,122,153,184,212,243,273,304,334], datum.value)]","title":null,"grid":false,"tickSize":5,"tickColor":"#000000","domainColor":"#000000","domainWidth":1.5,"labelFont":"DejaVu Sans","labelFontSize":13,"labelColor":"#262626","labelPadding":1,"labelOffset":{"condition":{"test":"datum.value == 334","value":29},"value":37},"labelAlign":"center","labelFlush":false,"labelOverlap":false}}},
"layer":[
 {"transform":[{"filter":{"field":"k","oneOf":["p","q"]}}],
  "mark":{"type":"bar","width":3},
  "encoding":{
   "y":{"field":"v","type":"quantitative","scale":{"domain":[0,150],"nice":false},
    "axis":{"orient":"right","values":[0,10,20,30,40,50,60,70,80,90,100,110,120,130,140,150],"title":"Precipitación (mm)","titleFont":"Liberation Sans","titleFontSize":13,"titleFontWeight":"bold","titleColor":"#000000","titleAngle":270,"titleX":59,"titleY":228,"titleAlign":"center","titleBaseline":"middle","grid":false,"tickSize":6,"labelPadding":7,"labelFont":"DejaVu Sans","labelFontSize":13,"labelColor":"#262626","domainColor":"#333333","domainWidth":1.5,"tickColor":"#333333"}},
   "color":{"field":"k","type":"nominal","sort":null,
    "scale":{"domain":["p","q","a","b","c","e","f","g"],"range":["#92D050","#007000","#FAC090","#92CDDC","#CCC1DA","#C00000","#00009A","#403152"]},
    "legend":{"orient":"none","legendX":-15,"legendY":462,"direction":"horizontal","columns":4,"title":null,"columnPadding":140,"rowPadding":1,"padding":0,"gridAlign":"all","symbolType":"M-1,-0.5H5.6V0.5H-1Z","symbolSize":100,"symbolStrokeWidth":0,"labelFont":"DejaVu Sans","labelFontSize":11,"labelFontWeight":"bold","labelColor":"#000000","labelOffset":24,
     "labelExpr":"datum.label=='p'?'Pp. 2022-2023':datum.label=='q'?'Pp. 2023-2024':datum.label=='a'?'TMáx. 2022-2023':datum.label=='b'?'TMín. 2022-2023':datum.label=='c'?'TMed. 2022-2023':datum.label=='e'?'TMáx. 2023-2024':datum.label=='f'?'TMín. 2023-2024':'TMed. 2023-2024'"}}}},
 {"encoding":{
   "y":{"field":"v","type":"quantitative","scale":{"domain":[0,34],"nice":false},
    "axis":{"orient":"left","values":[0,2,4,6,8,10,12,14,16,18,20,22,24,26,28,30,32,34],"title":"Temperatura (°C)","titleFont":"Liberation Sans","titleFontSize":13,"titleFontWeight":"bold","titleColor":"#000000","titleAngle":270,"titleX":-60,"titleY":230,"titleAlign":"center","titleBaseline":"middle","grid":true,"gridColor":"#D0D0D0","gridDash":[2,2],"gridWidth":1,"tickSize":7,"labelPadding":9,"labelFont":"DejaVu Sans","labelFontSize":13,"labelColor":"#262626","domainColor":"#000000","domainWidth":1.5,"tickColor":"#000000"}},
   "color":{"field":"k","type":"nominal","sort":null}},
  "layer":[
   {"transform":[{"filter":{"field":"k","oneOf":["a","b","c"]}}],"mark":{"type":"line","strokeWidth":2.6,"strokeJoin":"round"},"encoding":{}},
   {"transform":[{"filter":{"field":"k","oneOf":["e","f","g"]}}],"mark":{"type":"line","strokeWidth":2.6,"strokeJoin":"round"},"encoding":{}}
  ]}
],
"resolve":{"scale":{"y":"independent"}}
}
